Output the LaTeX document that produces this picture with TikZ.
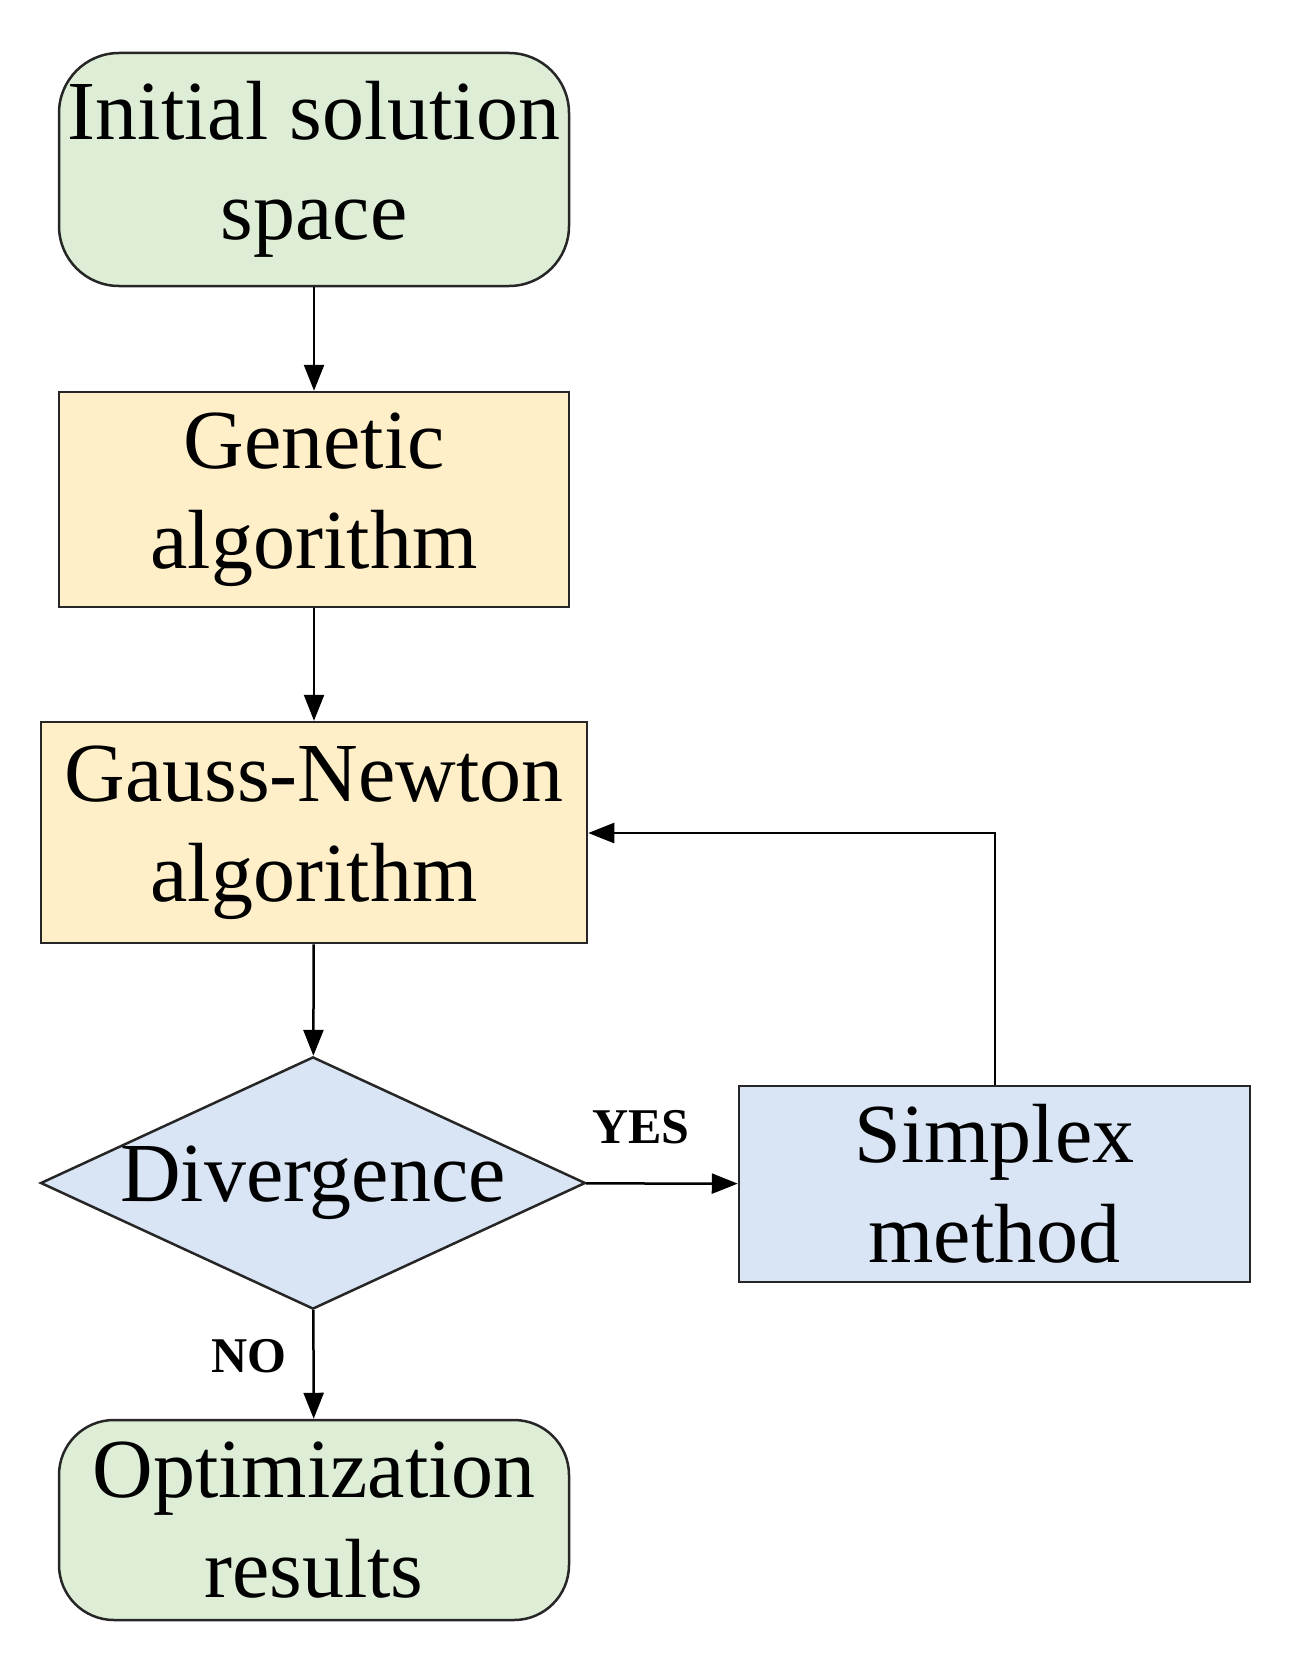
\documentclass[tikz,border=0pt]{standalone}
\usepackage{fontspec}
\setmainfont{Liberation Serif}
\usetikzlibrary{shapes.geometric,arrows.meta}
\definecolor{gr}{HTML}{DDEDD6}
\definecolor{ye}{HTML}{FEEFC9}
\definecolor{bl}{HTML}{D9E4F4}
\begin{document}
\begin{tikzpicture}[x=1pt,y=-1pt,
 box/.style={draw=black!85,line width=2.5pt,align=center,font=\fontsize{84}{100}\selectfont,inner sep=0pt},
 arr/.style={line width=2.5pt,-{Triangle[length=26pt,width=20pt]}},
 lab/.style={font=\fontsize{50}{55}\selectfont\bfseries}]
\useasboundingbox (0,0) rectangle (1299,1680);
\node[box,rounded corners=60pt,fill=gr,minimum width=510pt,minimum height=233pt] (a) at (314,169.5) {Initial solution\\space};
\node[box,fill=ye,minimum width=510pt,minimum height=215pt] (b) at (314,499.5) {Genetic\\algorithm};
\node[box,fill=ye,minimum width=546pt,minimum height=221pt] (c) at (314,832.5) {Gauss-Newton\\algorithm};
\node[box,diamond,aspect=2.16,fill=bl,minimum width=544pt,minimum height=252pt] (d) at (313,1183) {Divergence};
\node[box,fill=bl,minimum width=511pt,minimum height=196pt] (s) at (994.5,1184) {Simplex\\method};
\node[box,rounded corners=55pt,fill=gr,minimum width=510pt,minimum height=200pt] (e) at (314,1520) {Optimization\\results};
\draw[arr] (a) -- (b);
\draw[arr] (b) -- (c);
\draw[arr] (c) -- (d);
\draw[arr] (d) -- (e);
\draw[arr] (d) -- (s);
\draw[arr] (s.north -| 995,0) |- (c.east |- 0,833);
\node[lab] (y) at (641,1127) {YES};
\node[lab] (n) at (249,1356) {NO};
\end{tikzpicture}
\end{document}
